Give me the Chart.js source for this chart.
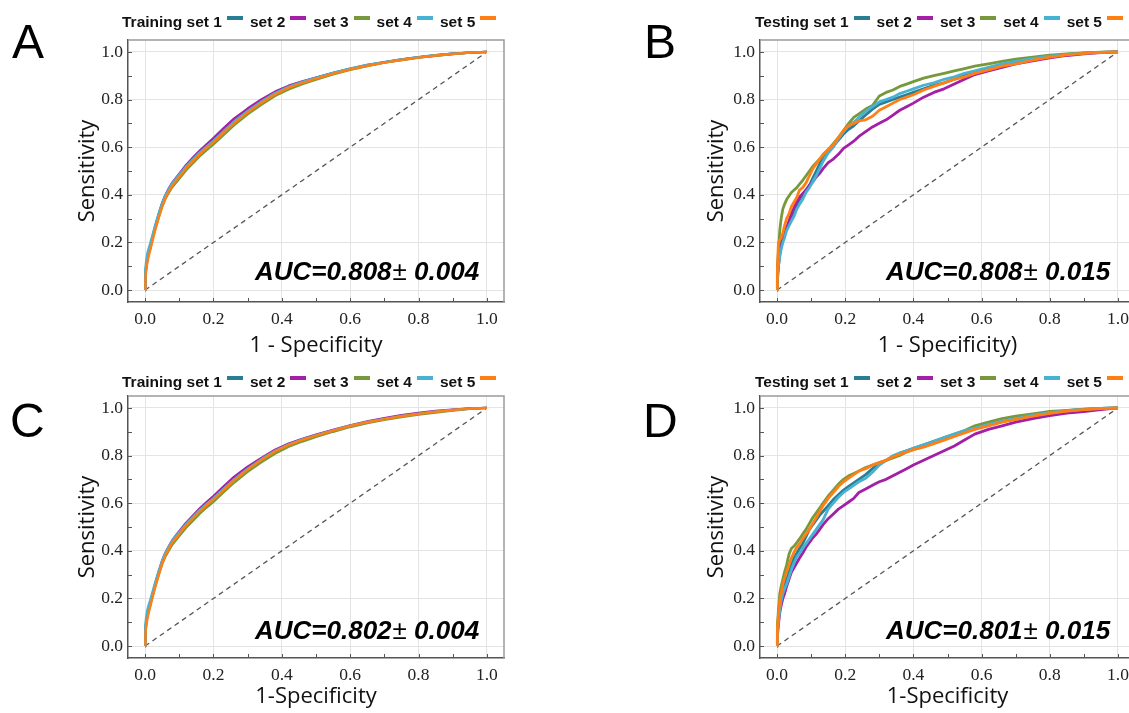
<!DOCTYPE html>
<html><head><meta charset="utf-8">
<script src="https://cdn.jsdelivr.net/npm/chart.js@4/dist/chart.umd.min.js"></script>
<style>
html,body{margin:0;padding:0;background:#fff;overflow:hidden;width:1129px;height:713px;position:relative}
canvas{position:absolute}
.letter{position:absolute;font-family:"Liberation Sans",Arial,sans-serif;font-size:48px;line-height:48px;color:#000}
.legend{position:absolute;display:flex;align-items:flex-start;font:bold 15.5px/17px "Liberation Sans",Arial,sans-serif;color:#111;white-space:nowrap}
.legend .mk{display:inline-block;width:16px;height:4px;margin:3px 7px 0 5px}
.auc{position:absolute;font:italic bold 26px/26px "Liberation Sans",Arial,sans-serif;color:#000;white-space:nowrap}
.auc .pm{font-style:normal;font-weight:normal;font-family:"Liberation Sans",Arial,sans-serif;margin-left:1px}
</style></head><body>
<script>
// ---------------- DATA ----------------
const setNames = ['set 1', 'set 2', 'set 3', 'set 4', 'set 5'];
const setColors = ['#2b7d94', '#a21fa6', '#77993b', '#48b2d2', '#ff7f15'];
const majorTicks = [0, 0.2, 0.4, 0.6, 0.8, 1.0];
const minorTicks = [0.1, 0.3, 0.5, 0.7, 0.9];
const diagX = [0, 1];
const diagY = [0, 1];

// 1 - specificity values where the training curves were read
const fprTr = [0, 0.001, 0.003, 0.006, 0.01, 0.015, 0.02, 0.03, 0.04, 0.05, 0.06, 0.07, 0.08, 0.1, 0.12, 0.14, 0.16, 0.18, 0.2, 0.23, 0.26, 0.3, 0.34, 0.38, 0.42, 0.46, 0.5, 0.55, 0.6, 0.65, 0.7, 0.75, 0.8, 0.85, 0.9, 0.95, 1.0];
// 1 - specificity values where the testing curves were read
const fprTe = [0, 0.001, 0.004, 0.008, 0.012, 0.017, 0.022, 0.028, 0.035, 0.042, 0.05, 0.058, 0.066, 0.075, 0.085, 0.095, 0.105, 0.115, 0.125, 0.135, 0.15, 0.165, 0.18, 0.195, 0.21, 0.225, 0.24, 0.26, 0.28, 0.3, 0.32, 0.34, 0.36, 0.38, 0.4, 0.43, 0.46, 0.49, 0.52, 0.55, 0.58, 0.62, 0.66, 0.7, 0.75, 0.8, 0.85, 0.9, 0.95, 1.0];

// Panel A – training sensitivity
const tprA1 = [0, 0.07, 0.10, 0.13, 0.157, 0.183, 0.213, 0.268, 0.318, 0.362, 0.397, 0.423, 0.447, 0.483, 0.518, 0.548, 0.578, 0.603, 0.628, 0.668, 0.708, 0.753, 0.792, 0.826, 0.853, 0.873, 0.891, 0.912, 0.93, 0.945, 0.957, 0.968, 0.978, 0.986, 0.992, 0.997, 1.0];
const tprA2 = [0, 0.06, 0.09, 0.12, 0.15, 0.178, 0.21, 0.268, 0.318, 0.365, 0.40, 0.428, 0.452, 0.488, 0.525, 0.556, 0.586, 0.612, 0.638, 0.68, 0.72, 0.762, 0.80, 0.833, 0.858, 0.876, 0.892, 0.911, 0.928, 0.943, 0.956, 0.967, 0.977, 0.985, 0.992, 0.997, 1.0];
const tprA3 = [0, 0.065, 0.095, 0.125, 0.15, 0.175, 0.205, 0.258, 0.305, 0.35, 0.385, 0.41, 0.433, 0.468, 0.503, 0.533, 0.562, 0.588, 0.612, 0.652, 0.692, 0.738, 0.778, 0.815, 0.843, 0.865, 0.884, 0.906, 0.925, 0.941, 0.955, 0.966, 0.976, 0.984, 0.991, 0.997, 1.0];
const tprA4 = [0, 0.09, 0.12, 0.15, 0.172, 0.195, 0.222, 0.275, 0.322, 0.366, 0.40, 0.426, 0.45, 0.485, 0.52, 0.55, 0.578, 0.603, 0.627, 0.667, 0.707, 0.752, 0.792, 0.827, 0.854, 0.874, 0.892, 0.912, 0.93, 0.945, 0.957, 0.968, 0.978, 0.986, 0.992, 0.997, 1.0];
const tprA5 = [0, 0.05, 0.08, 0.11, 0.14, 0.168, 0.198, 0.255, 0.305, 0.352, 0.388, 0.415, 0.44, 0.476, 0.512, 0.542, 0.571, 0.597, 0.621, 0.661, 0.70, 0.746, 0.786, 0.822, 0.85, 0.87, 0.888, 0.909, 0.927, 0.942, 0.955, 0.966, 0.976, 0.985, 0.991, 0.997, 1.0];

// Panel B – testing sensitivity
const tprB1 = [0, 0.06, 0.12, 0.17, 0.20, 0.22, 0.24, 0.26, 0.28, 0.30, 0.33, 0.36, 0.38, 0.40, 0.42, 0.44, 0.47, 0.50, 0.53, 0.56, 0.59, 0.605, 0.63, 0.655, 0.675, 0.69, 0.71, 0.735, 0.76, 0.78, 0.79, 0.80, 0.81, 0.82, 0.83, 0.845, 0.86, 0.87, 0.885, 0.90, 0.915, 0.93, 0.945, 0.955, 0.968, 0.98, 0.99, 0.995, 0.998, 1.0];
const tprB2 = [0, 0.04, 0.10, 0.15, 0.19, 0.21, 0.235, 0.26, 0.29, 0.32, 0.345, 0.37, 0.39, 0.405, 0.42, 0.44, 0.455, 0.475, 0.49, 0.51, 0.535, 0.55, 0.57, 0.595, 0.61, 0.625, 0.645, 0.665, 0.685, 0.70, 0.715, 0.735, 0.755, 0.77, 0.785, 0.81, 0.83, 0.845, 0.865, 0.885, 0.905, 0.92, 0.935, 0.95, 0.962, 0.975, 0.985, 0.992, 0.997, 1.0];
const tprB3 = [0, 0.10, 0.16, 0.25, 0.30, 0.34, 0.36, 0.38, 0.395, 0.41, 0.42, 0.43, 0.445, 0.46, 0.48, 0.50, 0.52, 0.535, 0.55, 0.565, 0.59, 0.615, 0.64, 0.67, 0.70, 0.725, 0.74, 0.76, 0.775, 0.815, 0.83, 0.84, 0.855, 0.865, 0.875, 0.89, 0.90, 0.91, 0.92, 0.93, 0.94, 0.95, 0.96, 0.97, 0.978, 0.986, 0.992, 0.996, 0.999, 1.0];
const tprB4 = [0, 0.05, 0.10, 0.14, 0.17, 0.20, 0.22, 0.25, 0.27, 0.29, 0.31, 0.34, 0.36, 0.38, 0.41, 0.43, 0.455, 0.48, 0.51, 0.54, 0.575, 0.60, 0.635, 0.665, 0.69, 0.705, 0.725, 0.75, 0.77, 0.79, 0.80, 0.81, 0.825, 0.835, 0.845, 0.86, 0.87, 0.885, 0.895, 0.91, 0.92, 0.935, 0.95, 0.96, 0.972, 0.982, 0.99, 0.995, 0.998, 1.0];
const tprB5 = [0, 0.08, 0.20, 0.21, 0.22, 0.24, 0.27, 0.30, 0.32, 0.35, 0.37, 0.39, 0.42, 0.43, 0.45, 0.48, 0.51, 0.53, 0.55, 0.57, 0.59, 0.61, 0.64, 0.67, 0.69, 0.70, 0.71, 0.715, 0.73, 0.755, 0.77, 0.785, 0.80, 0.81, 0.82, 0.84, 0.855, 0.87, 0.885, 0.895, 0.91, 0.925, 0.94, 0.95, 0.965, 0.978, 0.988, 0.994, 0.998, 1.0];

// Panel C – training sensitivity
const tprC1 = [0, 0.07, 0.10, 0.128, 0.153, 0.178, 0.207, 0.26, 0.31, 0.355, 0.39, 0.415, 0.44, 0.476, 0.51, 0.54, 0.57, 0.595, 0.62, 0.66, 0.70, 0.745, 0.783, 0.818, 0.845, 0.866, 0.885, 0.905, 0.924, 0.94, 0.953, 0.965, 0.975, 0.984, 0.991, 0.997, 1.0];
const tprC2 = [0, 0.06, 0.09, 0.12, 0.148, 0.175, 0.205, 0.262, 0.312, 0.358, 0.393, 0.42, 0.445, 0.482, 0.518, 0.548, 0.578, 0.604, 0.63, 0.671, 0.71, 0.753, 0.79, 0.824, 0.85, 0.87, 0.888, 0.908, 0.927, 0.943, 0.957, 0.969, 0.979, 0.987, 0.993, 0.998, 1.0];
const tprC3 = [0, 0.065, 0.095, 0.122, 0.147, 0.172, 0.2, 0.252, 0.3, 0.344, 0.378, 0.403, 0.427, 0.462, 0.497, 0.527, 0.556, 0.582, 0.606, 0.646, 0.686, 0.732, 0.772, 0.808, 0.837, 0.859, 0.878, 0.9, 0.92, 0.936, 0.95, 0.962, 0.972, 0.981, 0.989, 0.996, 1.0];
const tprC4 = [0, 0.09, 0.12, 0.147, 0.17, 0.192, 0.218, 0.27, 0.316, 0.36, 0.394, 0.42, 0.444, 0.479, 0.513, 0.543, 0.572, 0.597, 0.621, 0.661, 0.70, 0.745, 0.785, 0.82, 0.847, 0.868, 0.886, 0.906, 0.925, 0.941, 0.954, 0.966, 0.976, 0.985, 0.991, 0.997, 1.0];
const tprC5 = [0, 0.05, 0.08, 0.108, 0.137, 0.165, 0.195, 0.25, 0.3, 0.347, 0.383, 0.41, 0.435, 0.471, 0.507, 0.537, 0.566, 0.592, 0.616, 0.656, 0.695, 0.741, 0.781, 0.817, 0.845, 0.866, 0.884, 0.905, 0.924, 0.94, 0.953, 0.965, 0.975, 0.984, 0.991, 0.997, 1.0];

// Panel D – testing sensitivity
const tprD1 = [0, 0.06, 0.12, 0.17, 0.20, 0.23, 0.26, 0.28, 0.31, 0.34, 0.37, 0.39, 0.41, 0.43, 0.46, 0.49, 0.51, 0.53, 0.55, 0.565, 0.59, 0.615, 0.635, 0.655, 0.67, 0.685, 0.70, 0.72, 0.745, 0.765, 0.78, 0.795, 0.81, 0.82, 0.83, 0.845, 0.86, 0.872, 0.887, 0.90, 0.912, 0.928, 0.942, 0.953, 0.967, 0.979, 0.988, 0.994, 0.998, 1.0];
const tprD2 = [0, 0.04, 0.09, 0.14, 0.17, 0.20, 0.22, 0.25, 0.28, 0.31, 0.33, 0.35, 0.37, 0.39, 0.415, 0.435, 0.455, 0.47, 0.49, 0.51, 0.535, 0.555, 0.575, 0.59, 0.605, 0.62, 0.645, 0.66, 0.675, 0.69, 0.70, 0.715, 0.73, 0.745, 0.76, 0.78, 0.80, 0.82, 0.84, 0.865, 0.89, 0.91, 0.925, 0.94, 0.955, 0.968, 0.978, 0.985, 0.993, 1.0];
const tprD3 = [0, 0.08, 0.15, 0.22, 0.25, 0.28, 0.31, 0.34, 0.385, 0.41, 0.42, 0.435, 0.45, 0.47, 0.49, 0.515, 0.54, 0.56, 0.58, 0.60, 0.63, 0.655, 0.68, 0.70, 0.715, 0.725, 0.735, 0.75, 0.76, 0.77, 0.78, 0.79, 0.80, 0.815, 0.825, 0.84, 0.86, 0.875, 0.89, 0.905, 0.925, 0.94, 0.955, 0.965, 0.975, 0.985, 0.99, 0.995, 0.998, 1.0];
const tprD4 = [0, 0.05, 0.10, 0.15, 0.19, 0.22, 0.24, 0.26, 0.29, 0.32, 0.35, 0.375, 0.39, 0.41, 0.43, 0.45, 0.47, 0.49, 0.51, 0.53, 0.575, 0.60, 0.625, 0.645, 0.66, 0.675, 0.69, 0.705, 0.73, 0.76, 0.78, 0.80, 0.81, 0.82, 0.83, 0.845, 0.86, 0.875, 0.89, 0.905, 0.915, 0.93, 0.945, 0.955, 0.97, 0.98, 0.988, 0.994, 0.998, 1.0];
const tprD5 = [0, 0.07, 0.13, 0.19, 0.22, 0.26, 0.285, 0.31, 0.34, 0.37, 0.395, 0.415, 0.43, 0.45, 0.47, 0.49, 0.515, 0.54, 0.565, 0.59, 0.62, 0.645, 0.67, 0.69, 0.705, 0.72, 0.735, 0.745, 0.76, 0.77, 0.78, 0.795, 0.805, 0.815, 0.825, 0.835, 0.85, 0.865, 0.88, 0.895, 0.91, 0.925, 0.94, 0.952, 0.965, 0.977, 0.987, 0.993, 0.997, 1.0];

const panelLetters = ['A', 'B', 'C', 'D'];
const legendPrefix = ['Training', 'Testing', 'Training', 'Testing'];
const aucMean = ['0.808', '0.808', '0.802', '0.801'];
const aucSd = ['0.004', '0.015', '0.004', '0.015'];
const xTitles = ['1 - Specificity', '1 - Specificity)', '1-Specificity', '1-Specificity'];
const yTitle = 'Sensitivity';
const panelX = [fprTr, fprTe, fprTr, fprTe];
const panelSeries = [
  [tprA1, tprA2, tprA3, tprA4, tprA5],
  [tprB1, tprB2, tprB3, tprB4, tprB5],
  [tprC1, tprC2, tprC3, tprC4, tprC5],
  [tprD1, tprD2, tprD3, tprD4, tprD5]
];

// ---------------- LAYOUT ----------------
const layout = [
  {cv: [0, 0, 564, 360],   area: {l: 128, t: 40,  r: 504, b: 302}, yTitleX: 88,  xTitleY: 346, letter: [12, 18], legend: [122, 13], auc: [255, 258], lw: 2.4},
  {cv: [600, 0, 560, 360], area: {l: 760, t: 40,  r: 1135, b: 302}, yTitleX: 717, xTitleY: 346, letter: [644, 18], legend: [755, 13], auc: [886, 258], lw: 2.8},
  {cv: [0, 356, 564, 360], area: {l: 128, t: 396, r: 504, b: 658}, yTitleX: 88,  xTitleY: 697, letter: [10, 397], legend: [122, 373], auc: [255, 617], lw: 2.4},
  {cv: [600, 356, 560, 360], area: {l: 760, t: 396, r: 1135, b: 658}, yTitleX: 717, xTitleY: 697, letter: [643, 397], legend: [755, 373], auc: [886, 617], lw: 2.8}
];

const frame = {
  id: 'frame',
  beforeDatasetsDraw(chart) {
    const {ctx, chartArea: a, scales: {x, y}} = chart;
    ctx.save();
    ctx.strokeStyle = '#555';
    ctx.lineWidth = 1;
    minorTicks.concat(majorTicks).forEach(v => {
      const px = Math.round(x.getPixelForValue(v)) + 0.5;
      ctx.beginPath(); ctx.moveTo(px, a.bottom); ctx.lineTo(px, a.bottom - 4); ctx.stroke();
      const py = Math.round(y.getPixelForValue(v)) + 0.5;
      ctx.beginPath(); ctx.moveTo(a.left, py); ctx.lineTo(a.left + 4, py); ctx.stroke();
    });
    ctx.strokeStyle = '#9a9a9a';
    ctx.lineWidth = 1.5;
    ctx.beginPath();
    ctx.moveTo(a.left, a.top); ctx.lineTo(a.right, a.top); ctx.lineTo(a.right, a.bottom);
    ctx.stroke();
    ctx.restore();
  }
};

const tickFont = {family: '"Liberation Serif", "Times New Roman", serif', size: 17.5};
const titleFont = {family: '"Open Sans", "Noto Sans", sans-serif', size: 22};

panelSeries.forEach((series, p) => {
  const L = layout[p];
  const fx = panelX[p];
  const [cx, cy, cw, ch] = L.cv;
  const cvs = document.createElement('canvas');
  cvs.width = cw; cvs.height = ch;
  cvs.style.left = cx + 'px'; cvs.style.top = cy + 'px';
  cvs.style.width = cw + 'px'; cvs.style.height = ch + 'px';
  document.body.appendChild(cvs);

  const yW = L.area.l - cx;
  const xH = cy + ch - L.area.b;
  const padTop = L.area.t - cy;
  const padRight = cx + cw - L.area.r;
  const lh = titleFont.size * 1.2;

  const datasets = series.map((tpr, i) => ({
    label: setNames[i],
    data: fx.map((f, k) => ({x: f, y: tpr[k]})),
    borderColor: setColors[i],
    backgroundColor: setColors[i],
    borderWidth: L.lw,
    borderJoinStyle: 'round',
    pointRadius: 0,
    showLine: true,
    tension: 0,
    order: 5 - i
  }));
  datasets.push({
    label: 'chance',
    data: diagX.map((v, k) => ({x: v, y: diagY[k]})),
    borderColor: '#555',
    borderWidth: 1.3,
    borderDash: [5, 4],
    pointRadius: 0,
    showLine: true,
    order: 10
  });

  new Chart(cvs, {
    type: 'scatter',
    data: {datasets},
    options: {
      responsive: false,
      animation: false,
      devicePixelRatio: 1,
      layout: {padding: {left: 0, top: padTop, right: padRight, bottom: 0}},
      plugins: {legend: {display: false}, tooltip: {enabled: false}},
      scales: {
        x: {
          type: 'linear', min: -0.05, max: 1.05,
          afterBuildTicks: s => { s.ticks = majorTicks.map(v => ({value: v})); },
          afterFit: s => { s.height = xH; },
          grid: {color: '#e4e4e4', lineWidth: 1, drawTicks: false},
          border: {color: '#555', width: 1.5},
          ticks: {font: tickFont, color: '#222', padding: 7, maxRotation: 0, callback: v => Number(v).toFixed(1)},
          title: {display: true, text: xTitles[p], font: titleFont, color: '#111',
                  padding: {top: 0, bottom: (cy + ch) - L.xTitleY - lh / 2}}
        },
        y: {
          type: 'linear', min: -0.05, max: 1.05,
          afterBuildTicks: s => { s.ticks = majorTicks.map(v => ({value: v})); },
          afterFit: s => { s.width = yW; },
          grid: {color: '#e4e4e4', lineWidth: 1, drawTicks: false},
          border: {color: '#555', width: 1.5},
          ticks: {font: tickFont, color: '#222', padding: 5, callback: v => Number(v).toFixed(1)},
          title: {display: true, text: yTitle, font: titleFont, color: '#111',
                  padding: {top: L.yTitleX - cx - lh / 2, bottom: 0}}
        }
      }
    },
    plugins: [frame]
  });

  const let_ = document.createElement('div');
  let_.className = 'letter';
  let_.style.left = L.letter[0] + 'px'; let_.style.top = L.letter[1] + 'px';
  let_.textContent = panelLetters[p];
  document.body.appendChild(let_);

  const lg = document.createElement('div');
  lg.className = 'legend';
  lg.style.left = L.legend[0] + 'px'; lg.style.top = L.legend[1] + 'px';
  setNames.forEach((n, i) => {
    const t = document.createElement('span');
    t.textContent = (i === 0 ? legendPrefix[p] + ' ' : '') + n;
    lg.appendChild(t);
    const m = document.createElement('span');
    m.className = 'mk';
    m.style.background = setColors[i];
    lg.appendChild(m);
  });
  document.body.appendChild(lg);

  const au = document.createElement('div');
  au.className = 'auc';
  au.style.left = L.auc[0] + 'px'; au.style.top = L.auc[1] + 'px';
  au.innerHTML = 'AUC=' + aucMean[p] + '<span class="pm">±</span> ' + aucSd[p];
  document.body.appendChild(au);
});
</script>
</body></html>
